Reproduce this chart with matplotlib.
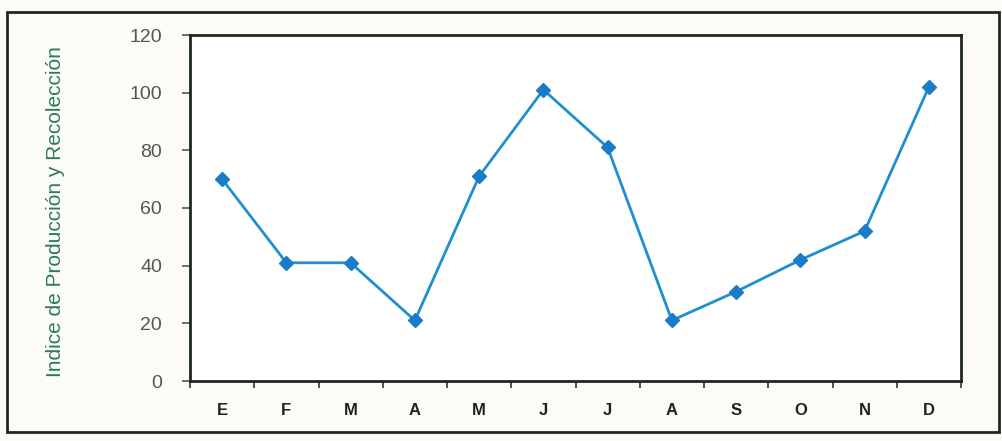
import matplotlib.pyplot as plt
from matplotlib.patches import Rectangle
from matplotlib.ticker import FixedLocator

# Monthly index values
months = ['E', 'F', 'M', 'A', 'M', 'J', 'J', 'A', 'S', 'O', 'N', 'D']
indice = [70, 41, 41, 21, 71, 101, 81, 21, 31, 42, 52, 102]
y_ticks = [0, 20, 40, 60, 80, 100, 120]

plt.rcParams['font.family'] = ['Liberation Sans', 'DejaVu Sans']

fig = plt.figure(figsize=(10.02, 4.41), dpi=100)
fig.patch.set_facecolor('#fcfcf6')

# frame around the whole chart
fig.patches.append(Rectangle((7 / 1002, 1 - 432 / 441), 992 / 1002, 420 / 441,
                             transform=fig.transFigure, fill=False,
                             edgecolor='#1c2a1c', lw=2))

ax = fig.add_axes([190 / 1002, 1 - 381 / 441, 771 / 1002, 346 / 441])
ax.set_facecolor('white')

x = list(range(len(months)))
ax.plot(x, indice, color='#1f8fd0', lw=2, marker='D', markersize=7,
        markerfacecolor='#1a7cc8', markeredgecolor='#1a7cc8')

ax.set_xlim(-0.5, len(months) - 0.5)
ax.set_ylim(0, 120)
ax.set_yticks(y_ticks)
ax.set_xticks(x)
ax.set_xticklabels(months, fontsize=12, fontweight='bold', color='#222222')
ax.xaxis.set_minor_locator(FixedLocator([i + 0.5 for i in range(-1, len(months))]))
ax.tick_params(axis='x', which='major', length=0, pad=16)
ax.tick_params(axis='x', which='minor', length=5, width=1.2, color='#333333', direction='out')
ax.tick_params(axis='y', length=6, width=1.2, color='#555555', labelsize=14,
               labelcolor='#555555', pad=14)

for s in ax.spines.values():
    s.set_color('#1c2a1c')
    s.set_linewidth(2)

ax.set_ylabel('Indice de Producción y Recolección', fontsize=15, color='#2c7a5a')
ax.yaxis.set_label_coords(-0.162, 0.49)

fig.savefig('out.png', dpi=100, facecolor=fig.get_facecolor())
